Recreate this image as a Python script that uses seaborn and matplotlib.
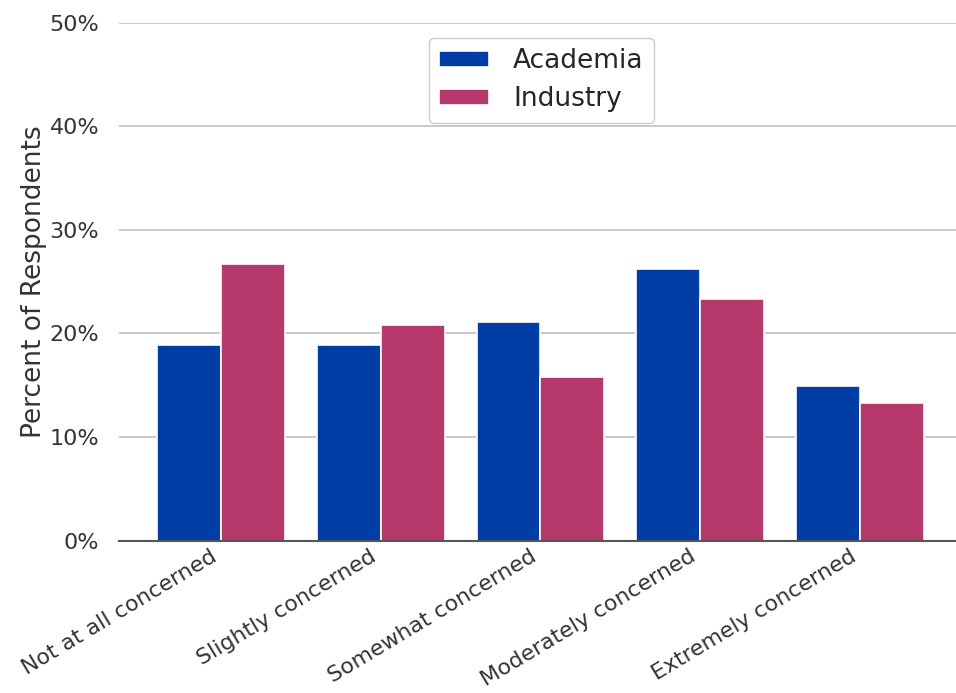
import pandas as pd
import matplotlib.pyplot as plt
import matplotlib.ticker as mticker
import matplotlib.transforms as mtransforms
import seaborn as sns

categories = ["Not at all concerned", "Slightly concerned", "Somewhat concerned",
              "Moderately concerned", "Extremely concerned"]
academia = [18.9, 18.9, 21.1, 26.2, 14.9]
industry = [26.7, 20.8, 15.8, 23.3, 13.3]
groups = ["Academia", "Industry"]
colors = ["#003da5", "#b5396b"]

df = pd.DataFrame({
    "concern": categories * 2,
    "group": ["Academia"] * len(categories) + ["Industry"] * len(categories),
    "pct": academia + industry,
})

sns.set_theme(style="whitegrid")
plt.rcParams["font.family"] = ["DejaVu Sans"]

fig, ax = plt.subplots(figsize=(9.56, 6.93), dpi=100)
sns.barplot(data=df, x="concern", y="pct", hue="group", hue_order=groups,
            palette=colors, ax=ax, width=0.8, edgecolor="white", linewidth=1.2,
            saturation=1)

ax.set_ylim(0, 50)
ax.set_xlim(-0.64, 4.6)
ax.yaxis.set_major_locator(mticker.MultipleLocator(10))
ax.yaxis.set_major_formatter(mticker.FuncFormatter(lambda v, _: f"{v:.0f}%"))
ax.grid(axis="y", color="#c0c0c0", linewidth=1.2)
ax.grid(axis="x", visible=False)
for s in ["left", "right", "top"]:
    ax.spines[s].set_visible(False)
ax.spines["bottom"].set_color("#555555")
ax.spines["bottom"].set_linewidth(1.5)

ax.set_xlabel("")
ax.set_ylabel("Percent of Respondents", fontsize=19, color="#333333", labelpad=2)
ax.tick_params(axis="y", labelsize=16, labelcolor="#333333", length=0, pad=14)
ax.tick_params(axis="x", labelsize=15.8, labelcolor="#333333", length=0, pad=4)
shift = mtransforms.ScaledTranslation(-11 / 100, 0, fig.dpi_scale_trans)
for lbl in ax.get_xticklabels():
    lbl.set_rotation(31)
    lbl.set_ha("right")
    lbl.set_rotation_mode("anchor")
    lbl.set_transform(lbl.get_transform() + shift)

ax.legend(loc="upper center", fontsize=19, frameon=True, framealpha=1,
          edgecolor="#cccccc", handlelength=1.9, handleheight=0.55,
          labelspacing=0.45, borderpad=0.4, handletextpad=0.9,
          borderaxespad=0, bbox_to_anchor=(0.505, 0.971))

plt.subplots_adjust(left=0.124, right=1.0, top=0.967, bottom=0.22)
fig.savefig("out.png", dpi=100)
